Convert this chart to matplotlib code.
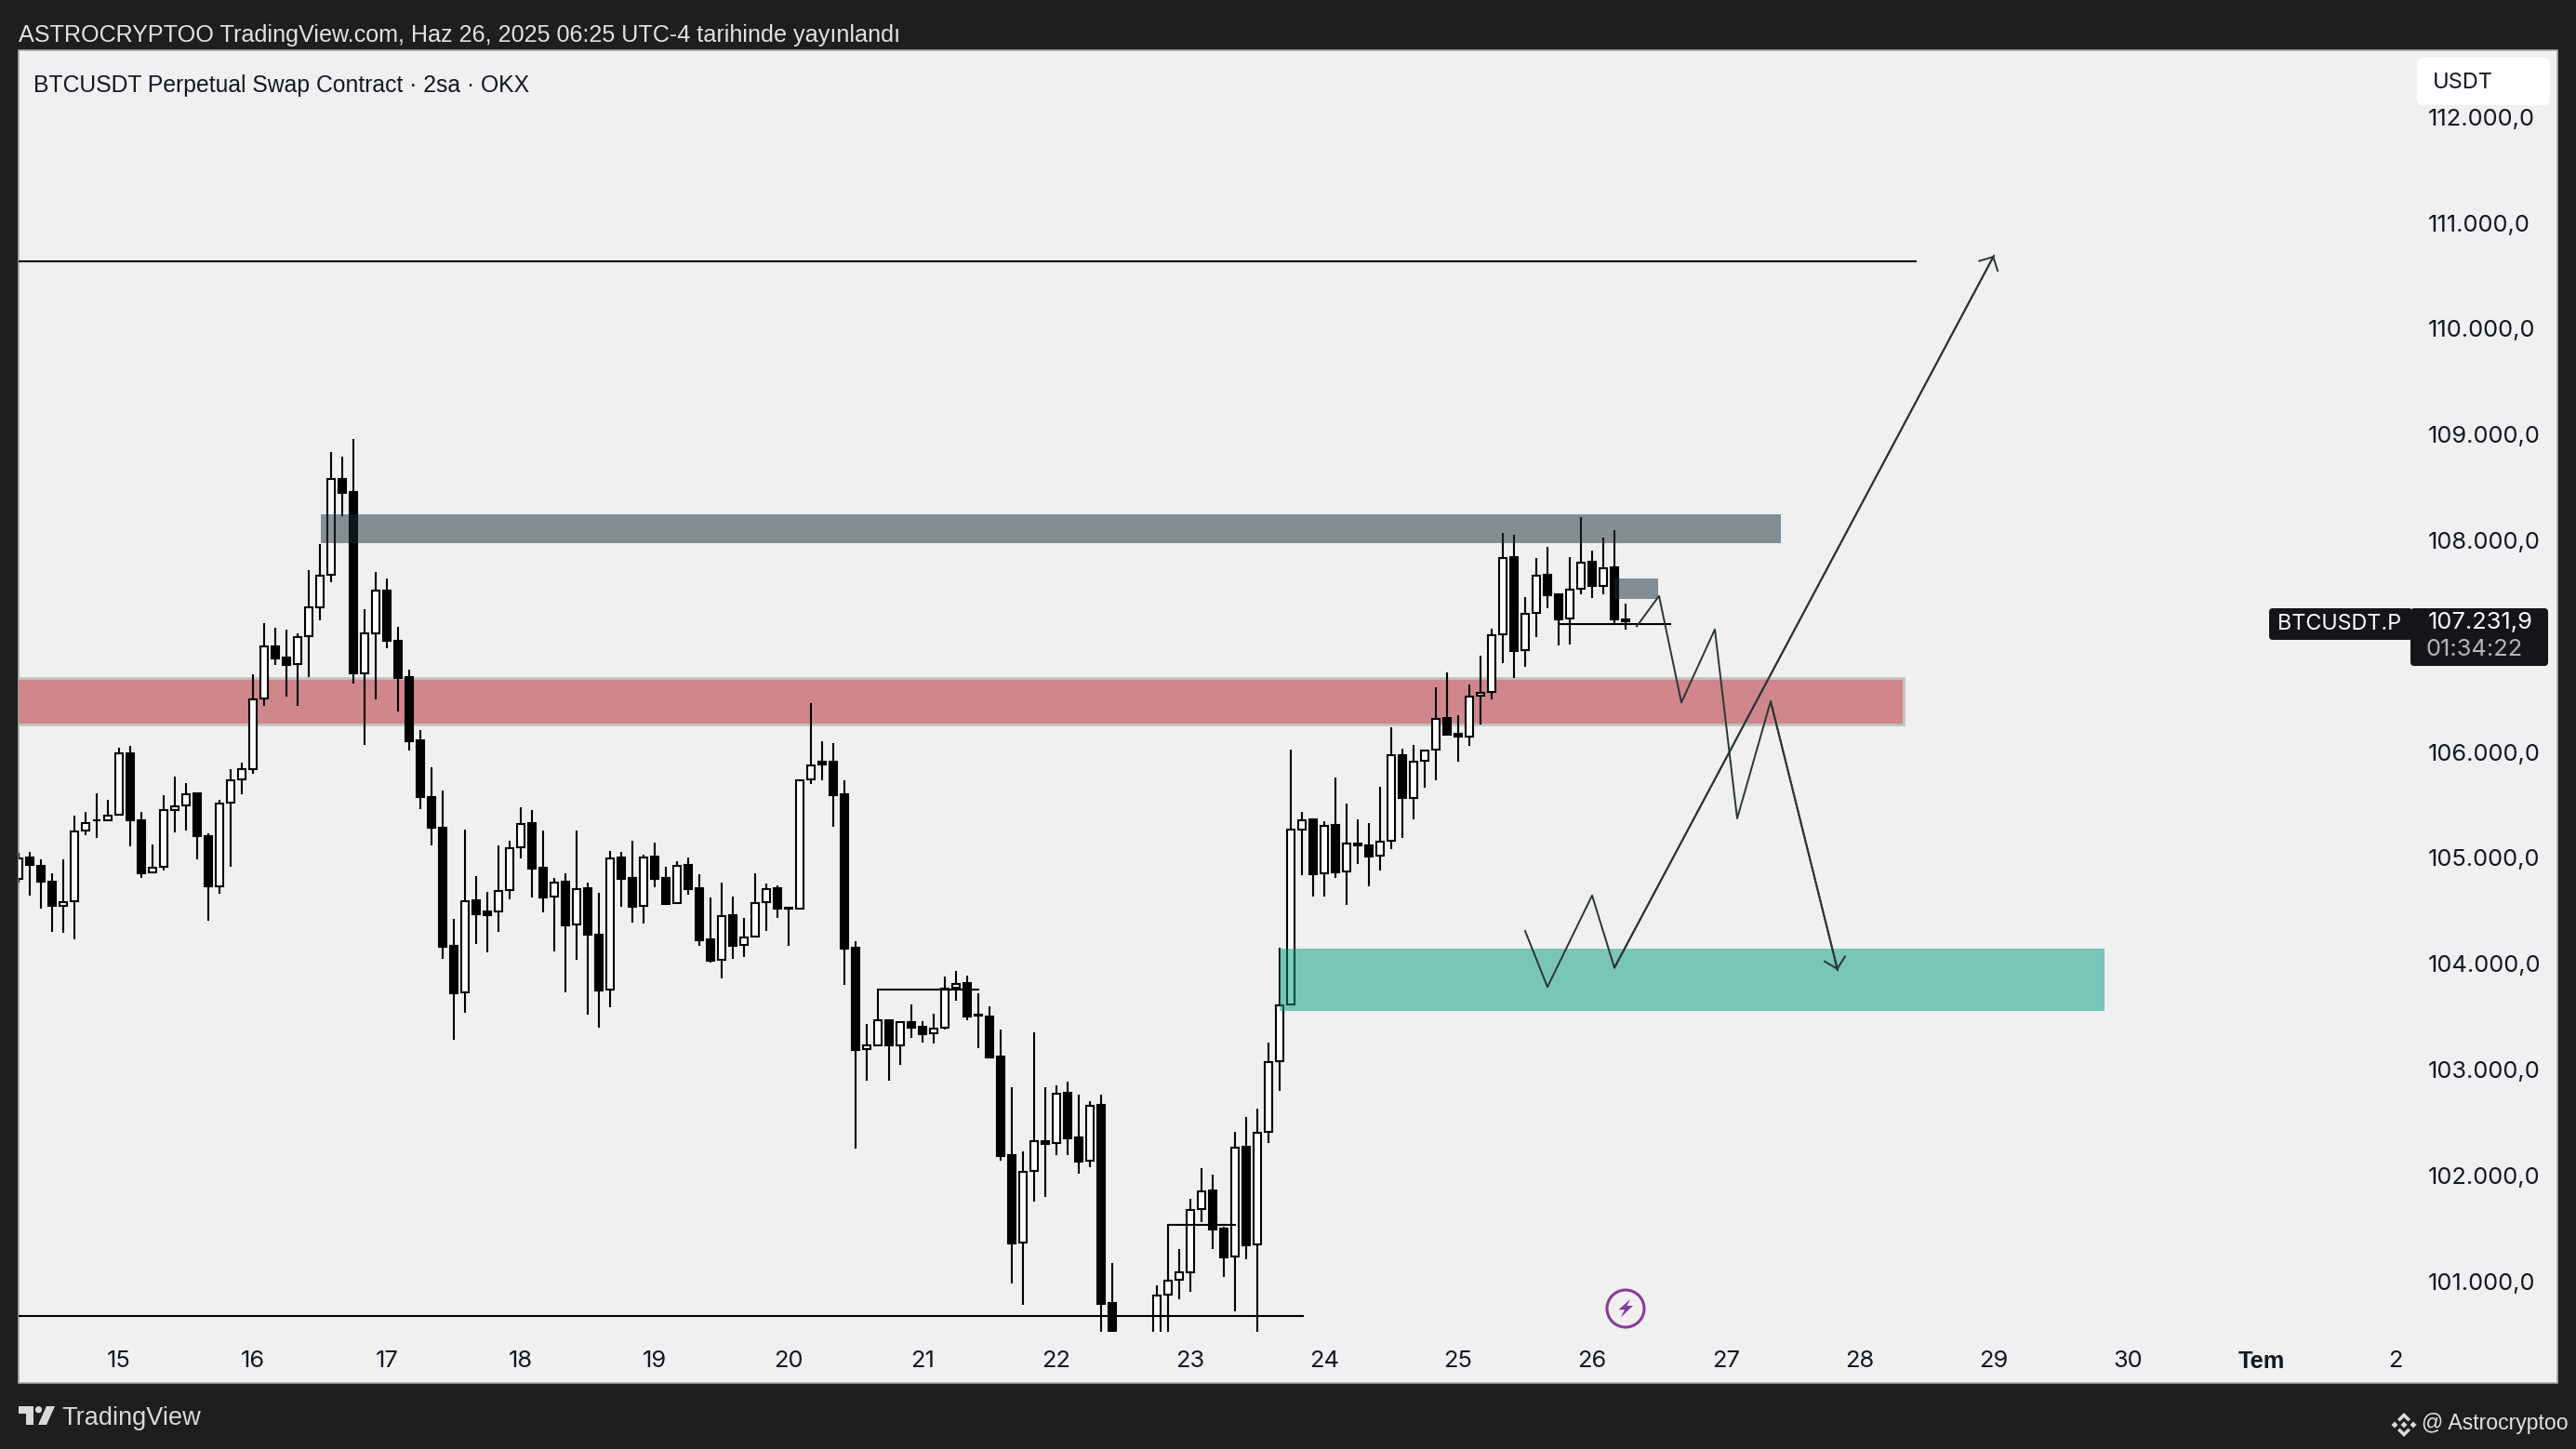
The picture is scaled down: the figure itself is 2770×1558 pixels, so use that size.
import matplotlib
matplotlib.use("Agg")
import numpy as np
import matplotlib.pyplot as plt
from matplotlib.patches import Rectangle, FancyBboxPatch, Circle, Polygon

# 2h candles
OPEN = [104798,105002,104928,104775,104547,104590,105257,105359,105355,105406,105991,105359,104861,104912,105449,105492,105610,105210,104728,105520,
        105740,105838,106509,106995,106893,106830,107093,107368,107678,108580,108458,106744,107121,107529,107054,106705,106112,105579,105281,104166,
        103733,104597,104491,104494,104696,105098,105326,104904,104632,104773,104371,104711,104272,103756,105001,104808,104544,105010,104808,104573,
        104931,104711,104228,104035,104456,104175,104254,104579,104711,104532,104518,105742,105906,105906,105599,104149,103191,103226,103469,103229,
        103445,103401,103340,103393,103771,103814,103516,103498,103120,102189,101366,102039,102327,102306,102778,102356,102139,102666,100792,100350,
        99900,100100,100260,100871,101014,101082,101682,101855,101498,101234,102268,101345,102411,103077,103614,105267,105363,104856,105308,104871,
        105138,105115,105023,105160,105974,105567,105914,106023,106318,106169,106143,106532,106570,107112,107839,106963,107314,107672,107490,107262,
        107546,107795,107569,107742,107256]
HIGH = [105049,105057,104983,104853,104983,105402,105434,105606,105551,106042,106054,105434,105128,105591,105767,105708,105610,105230,105544,105834,
        105904,106736,107219,107176,107156,107121,107717,107964,108835,108792,108957,107348,107701,107638,107183,106775,106206,105857,105638,104424,
        105265,104828,104679,105115,105162,105479,105449,105259,104808,104852,105259,104764,104670,105063,105057,105162,105027,105145,104916,104969,
        105004,104846,104626,104764,104632,104430,104855,104758,104738,104532,105739,106463,106102,106085,105733,104210,103431,103469,103469,103451,
        103615,103454,103527,103879,103929,103885,103721,103595,103378,102833,102227,103352,102833,102851,102886,102763,102701,102763,101173,100450,
        100300,100400,100959,101008,101301,101776,102069,102004,101512,102409,102549,102628,103252,104154,106022,105430,105363,105345,105759,105511,
        105363,105326,105670,106233,106029,106066,106018,106608,106752,106345,106635,106910,107165,108073,108052,107464,107833,107938,107490,107839,
        108219,107903,108026,108093,107399]
LOW = [104767,104641,104524,104304,104296,104233,105218,105190,105355,105402,105112,104806,104857,104884,105238,105261,104983,104406,104665,104912,
       105602,105795,106438,106826,106528,106438,106709,107246,107603,108231,106650,106069,106501,106979,106387,106010,105457,105120,104050,103279,
       103540,104184,104111,104304,104612,104998,104629,104489,104114,103733,104040,103522,103399,103586,104541,104392,104383,104723,104553,104573,
       104655,104172,104014,103865,104049,104067,104254,104310,104436,104172,104518,105701,105736,105294,103800,102256,102898,103226,102898,103047,
       103302,103258,103249,103381,103650,103469,103205,103114,102142,100979,100780,101755,101799,102192,102195,102016,102078,100300,100000,99700,
       99500,99800,100100,100200,100833,100903,101559,101307,101044,100716,101208,100400,102309,102800,103614,104838,104631,104635,104812,104557,
       104945,104734,104882,105086,105189,105363,105665,105736,106163,105911,106058,106260,106500,106843,106696,106808,107089,107358,107007,107019,
       107487,107452,107493,107212,107159]
CLOSE = [104994,104932,104775,104547,104582,105253,105328,105355,105402,105991,105359,104857,104908,105449,105489,105602,105210,104728,105516,105736,
         105834,106501,106995,106885,106826,107089,107364,107670,108580,108450,106740,107117,107529,107054,106701,106105,105579,105281,104163,103724,
         104594,104465,104462,104691,105095,105323,104902,104629,104767,104365,104708,104272,103750,104998,104805,104541,105007,104802,104565,104928,
         104708,104225,104029,104453,104172,104251,104576,104708,104524,104524,105736,105877,105880,105596,104146,103188,103226,103469,103226,103445,
         103399,103337,103387,103765,103809,103504,103507,103114,102186,101360,102037,102327,102300,102775,102353,102133,102660,100789,100350,99900,
         100100,100250,100868,101008,101082,101676,101852,101492,101228,102265,101342,102406,103073,103610,105263,105356,104845,105304,104864,105138,
         105115,105016,105152,105970,105563,105911,106014,106316,106163,106143,106526,106559,107106,107836,106957,107308,107669,107484,107256,107537,
         107792,107566,107739,107256,107232]

# 107.000 is hidden behind the last price tag in the reference
PRICE_TICKS = [112000, 111000, 110000, 109000, 108000, 106000, 105000, 104000, 103000, 102000, 101000]
PRICE_LABELS = ["112.000,0", "111.000,0", "110.000,0", "109.000,0", "108.000,0", "106.000,0",
                "105.000,0", "104.000,0", "103.000,0", "102.000,0", "101.000,0"]
DAY_TICKS = [9 + 12 * k for k in range(18)]
DAY_LABELS = ["15", "16", "17", "18", "19", "20", "21", "22", "23", "24", "25", "26", "27", "28", "29", "30", "Tem", "2"]

# zones: start, end, top, bottom
GREY_ZONE = [27.1, 157.9, 108243, 107976]
SMALL_ZONE = [143, 146.9, 107642, 107446]
RED_ZONE = [-2, 168.9, 106702, 106263]
TEAL_ZONE = [113, 186.9, 104143, 103558]

# drawn lines
TOP_LINE_X = [0, 170]
TOP_LINE_Y = [110636, 110636]
BOTTOM_LINE_X = [0, 115.1]
BOTTOM_LINE_Y = [100675, 100675]
LEVEL_X = [138, 148]
LEVEL_Y = [107209, 107209]
STEP1_X = [77, 77, 86]
STEP1_Y = [103469, 103756, 103756]
STEP2_X = [103, 103, 109]
STEP2_Y = [101008, 101536, 101536]
ZIG_DOWN_X = [145, 147, 149, 152, 154, 157, 163]
ZIG_DOWN_Y = [107188, 107475, 106468, 107159, 105372, 106480, 103940]
ZIG_UP_X = [135, 137, 141, 143, 177]
ZIG_UP_Y = [104309, 103780, 104645, 103962, 110689]

W, H = 2770, 1558
BG = "#1E1E1E"
PANEL = "#F0F0F0"
LINE = "#2A3535"
UI = ["Liberation Sans", "DejaVu Sans"]
NUM = ["Inter", "DejaVu Sans"]

fig = plt.figure(figsize=(W / 100, H / 100), dpi=100, facecolor=BG)


def px_axes(z):
    a = fig.add_axes([0, 0, 1, 1], zorder=z)
    a.set_xlim(0, W)
    a.set_ylim(H, 0)
    a.axis("off")
    a.patch.set_alpha(0)
    return a


back = px_axes(0)
back.add_patch(Rectangle((20, 54), 2730, 1433, fc=PANEL, ec="#A8A8A8", lw=1.2))

# main chart
left, right, top, bottom = 20, 2750, 54, 1432
ax = fig.add_axes([left / W, (H - bottom) / H, (right - left) / W, (bottom - top) / H], zorder=1)
ax.patch.set_alpha(0)
for s in ax.spines.values():
    s.set_visible(False)
ax.set_xlim(0, (right - left) / 12)
ax.set_ylim(100522, 112631)

idx = np.arange(len(OPEN))
o, h, l, c = map(np.array, (OPEN, HIGH, LOW, CLOSE))
up = c >= o

ax.add_patch(Rectangle((RED_ZONE[0], RED_ZONE[3]), RED_ZONE[1] - RED_ZONE[0], RED_ZONE[2] - RED_ZONE[3],
                       fc="#CF868D", ec="#C2C4C4", lw=2, zorder=1))
ax.vlines(idx, l, h, color="black", lw=1.5, zorder=2)
ax.bar(idx, np.abs(c - o), bottom=np.minimum(o, c), width=0.6,
       color=np.where(up, "white", "black"), edgecolor="black", linewidth=1.5, zorder=3)

for zone, col in ((GREY_ZONE, "#182E3A"), (SMALL_ZONE, "#182E3A"), (TEAL_ZONE, "#089981")):
    ax.add_patch(Rectangle((zone[0], zone[3]), zone[1] - zone[0], zone[2] - zone[3],
                           fc=col, ec="none", alpha=0.5, zorder=4))

for xs, ys in ((TOP_LINE_X, TOP_LINE_Y), (BOTTOM_LINE_X, BOTTOM_LINE_Y), (LEVEL_X, LEVEL_Y),
               (STEP1_X, STEP1_Y), (STEP2_X, STEP2_Y)):
    ax.plot(xs, ys, color="black", lw=1.5, solid_joinstyle="miter", zorder=5)

for xs, ys in ((ZIG_DOWN_X, ZIG_DOWN_Y), (ZIG_UP_X, ZIG_UP_Y)):
    ax.plot(xs, ys, color=LINE, lw=1.4, zorder=5)
    ax.annotate("", xy=(xs[-1], ys[-1]), xytext=(xs[-2], ys[-2]), zorder=5,
                arrowprops=dict(arrowstyle="->,head_length=0.4,head_width=0.41", color=LINE, lw=1.4,
                                mutation_scale=20, shrinkA=0, shrinkB=0))

# axes labels sit inside the panel
ax.yaxis.tick_right()
ax.set_yticks(PRICE_TICKS)
ax.set_yticklabels(PRICE_LABELS, family=NUM, fontsize=18.3, color="#131722")
ax.tick_params(axis="y", length=0, pad=-100)
ax.set_xticks(DAY_TICKS)
ax.set_xticklabels(DAY_LABELS, family=NUM, fontsize=18.3, color="#131722")
ax.tick_params(axis="x", length=0, pad=14.5)
for lab in ax.get_xticklabels():
    if lab.get_text() == "Tem":
        lab.set_fontweight("bold")
        lab.set_family(UI)

over = px_axes(2)
over.text(20, 37.5, "ASTROCRYPTOO TradingView.com, Haz 26, 2025 06:25 UTC-4 tarihinde yayınlandı",
          family=UI, fontsize=18.05, color="#E2E2E2", va="center", ha="left")
over.text(36, 91.5, "BTCUSDT Perpetual Swap Contract · 2sa · OKX", family=UI, fontsize=17.8,
          color="#131722", va="center", ha="left")

# USDT button
over.add_patch(FancyBboxPatch((2603, 66), 135, 43, boxstyle="round,pad=4,rounding_size=6", fc="white", ec="none"))
over.text(2616, 89, "USDT", family=NUM, fontsize=17, color="#131722", va="center", ha="left")

# last price tags
over.add_patch(FancyBboxPatch((2444, 658), 146, 26, boxstyle="round,pad=4,rounding_size=4", fc="#131519", ec="none"))
over.add_patch(FancyBboxPatch((2596, 658), 140, 54, boxstyle="round,pad=4,rounding_size=4", fc="#131519", ec="none"))
over.text(2449, 671, "BTCUSDT.P", family=NUM, fontsize=16.8, color="white", va="center", ha="left")
over.text(2611, 669, "107.231,9", family=NUM, fontsize=18.3, color="white", va="center", ha="left")
over.text(2609, 698, "01:34:22", family=NUM, fontsize=18.3, color="#B4B6B8", va="center", ha="left")

# lightning badge
over.add_patch(Circle((1748, 1407), 20, fc=PANEL, ec="#8A3A9C", lw=2.2))
bolt = np.array([[160, 110], [121, 145], [141, 145], [128, 170], [168, 132], [148, 132]]) / 3 + [1700, 1360]
over.add_patch(Polygon(bolt, fc="#8A3A9C", ec="none"))

# footer
logo = "#DADADA"
over.add_patch(Polygon([[20, 1512], [36, 1512], [36, 1532], [28, 1532], [28, 1520], [20, 1520]], fc=logo, ec="none"))
over.add_patch(Circle((41.5, 1515.7), 3.6, fc=logo, ec="none"))
over.add_patch(Polygon([[50, 1512], [59, 1512], [50, 1532], [41, 1532]], fc=logo, ec="none"))
over.text(66, 1524.5, "TradingView", family=UI, fontsize=19.5, color="#DADADA", va="center", ha="left")

cx, cy = 2585, 1532
for dx, dy in ((0, 0), (-10, 0), (10, 0)):
    over.add_patch(Polygon([[cx + dx - 3.5, cy + dy], [cx + dx, cy + dy - 3.5], [cx + dx + 3.5, cy + dy], [cx + dx, cy + dy + 3.5]],
                           fc=logo, ec="none"))
for s in (-1, 1):
    over.add_patch(Polygon([[cx - 7, cy + s * 6], [cx, cy + s * 13], [cx + 7, cy + s * 6], [cx + 4.5, cy + s * 3.5],
                            [cx, cy + s * 8], [cx - 4.5, cy + s * 3.5]], fc=logo, ec="none"))
over.text(2604, 1531, "@ Astrocryptoo", family=UI, fontsize=16.6, color="#E2E2E2", va="center", ha="left")

fig.savefig("out.png", dpi=100, facecolor=BG)
plt.close(fig)
